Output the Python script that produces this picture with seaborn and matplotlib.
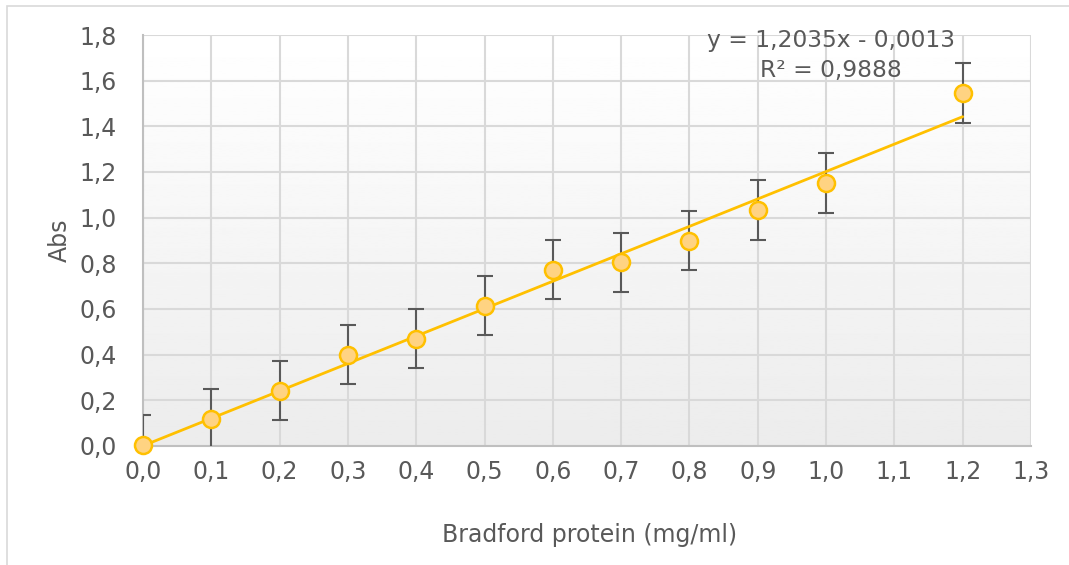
import numpy as np
import pandas as pd
import matplotlib
matplotlib.use("Agg")
import matplotlib.pyplot as plt
from matplotlib.patches import Rectangle
from matplotlib.ticker import FuncFormatter, MultipleLocator
import seaborn as sns

# ---- data ----
protein = [0.0, 0.1, 0.2, 0.3, 0.4, 0.5, 0.6, 0.7, 0.8, 0.9, 1.0, 1.2]
absorb = [0.005, 0.118, 0.242, 0.400, 0.470, 0.615, 0.772, 0.805, 0.900, 1.034, 1.152, 1.546]
err = [0.13, 0.13, 0.13, 0.13, 0.13, 0.13, 0.13, 0.13, 0.13, 0.13, 0.13, 0.13]
eq_text = "y = 1,2035x - 0,0013"
r2_text = "R² = 0,9888"
x_label = "Bradford protein (mg/ml)"
y_label = "Abs"

df = pd.DataFrame({"protein": protein, "abs": absorb, "err": err})

sns.set_style("white")
plt.rcParams["font.family"] = ["DejaVu Sans"]

fig = plt.figure(figsize=(10.69, 5.65), dpi=100)
ax = fig.add_axes([143 / 1069, 1 - 446 / 565, (1031 - 143) / 1069, (446 - 35) / 565])

# outer chart border
fig.patches.append(Rectangle((7 / 1069, -0.05), 1.2, 1 - 6 / 565 + 0.05,
                             transform=fig.transFigure, fill=False,
                             edgecolor="#d9d9d9", lw=1.2, zorder=0))

# gradient background (white at top, light gray at bottom)
grad = np.linspace(1.0, 0.925, 256).reshape(-1, 1)
ax.imshow(grad, extent=[0, 1, 0, 1], origin="upper", transform=ax.transAxes,
          cmap="gray", vmin=0, vmax=1, aspect="auto", zorder=0)

ax.set_xlim(0, 1.3)
ax.set_ylim(0, 1.8)
ax.xaxis.set_major_locator(MultipleLocator(0.1))
ax.yaxis.set_major_locator(MultipleLocator(0.2))
fmt = FuncFormatter(lambda v, p: f"{v:.1f}".replace(".", ","))
ax.xaxis.set_major_formatter(fmt)
ax.yaxis.set_major_formatter(fmt)
ax.grid(True, color="#d9d9d9", lw=1.5, zorder=1)
ax.set_axisbelow(True)
for s in ["top", "right"]:
    ax.spines[s].set_visible(False)
for s in ["left", "bottom"]:
    ax.spines[s].set_color("#bfbfbf")
    ax.spines[s].set_linewidth(1.5)
ax.tick_params(axis="both", length=0, labelsize=17, colors="#595959")
ax.tick_params(axis="y", pad=19)
ax.tick_params(axis="x", pad=10)

# error bars
ax.errorbar(df["protein"], df["abs"], yerr=df["err"], fmt="none",
            ecolor="#595959", elinewidth=1.5, capsize=6, capthick=1.5, zorder=3)

# trendline
coef = np.polyfit(df["protein"], df["abs"], 1)
xs = np.array([min(protein), max(protein)])
sns.lineplot(x=xs, y=np.polyval(coef, xs), color="#ffc000", lw=2, ax=ax, zorder=4)

# points
sns.scatterplot(data=df, x="protein", y="abs", s=150, color="#ffd382",
                edgecolor="#ffc000", linewidth=1.8, ax=ax, zorder=5, clip_on=False)

ax.set_xlabel(x_label, fontsize=17, color="#595959")
ax.set_ylabel(y_label, fontsize=17, color="#595959")
ax.xaxis.set_label_coords((590 - 143) / 888, -(535 - 446) / 411)
ax.yaxis.set_label_coords((60 - 143) / 888, 0.5)
ax.xaxis.label.set_va("center")
ax.yaxis.label.set_va("center")

fig.text(831 / 1069, 1 - 40 / 565, eq_text, ha="center", va="center",
         fontsize=16.8, color="#595959")
fig.text(831 / 1069, 1 - 71 / 565, r2_text, ha="center", va="center",
         fontsize=16.8, color="#595959")

fig.savefig("out.png", dpi=100)
